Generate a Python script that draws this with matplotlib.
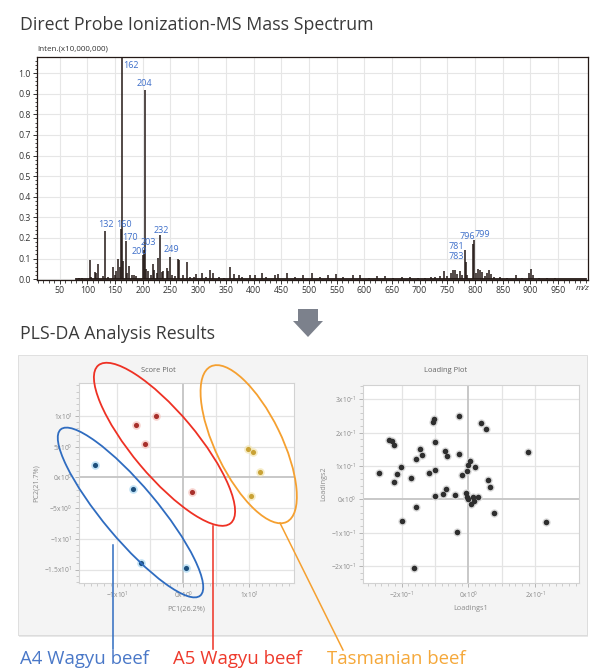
import numpy as np
import matplotlib
matplotlib.use('Agg')
import matplotlib.pyplot as plt
from matplotlib.transforms import Affine2D
from matplotlib.patches import Ellipse, Rectangle, Polygon
from matplotlib.lines import Line2D
from matplotlib.ticker import MultipleLocator, FixedLocator, FixedFormatter

plt.rcParams['font.family'] = ['Open Sans', 'DejaVu Sans']
plt.rcParams['mathtext.default'] = 'regular'

# ---------------- data ----------------
spec_mz = [84, 90, 104, 107, 114, 116, 119, 128, 132, 137, 146, 150, 152, 156, 158, 160, 162, 164,
           170, 172, 176, 180, 184, 188, 200, 203, 204, 206, 209, 214, 218, 221, 226, 228, 232, 234,
           236, 243, 246, 249, 253, 258, 263, 266, 272, 280, 286, 292, 297, 307, 314, 322, 326, 338,
           346, 358, 364, 373, 380, 394, 403, 415, 422, 439, 445, 460, 474, 490, 505, 520, 535, 549,
           562, 579, 593, 608, 623, 638, 652, 668, 682, 697, 710, 720, 728, 737, 744, 750, 757, 760,
           764, 768, 773, 776, 781, 783, 786, 796, 799, 802, 806, 809, 812, 818, 822, 825, 828, 835,
           845, 858, 874, 885, 898, 901, 904, 915, 930, 945]
spec_int = [0.004, 0.004, 0.092, 0.010, 0.033, 0.030, 0.073, 0.015, 0.235, 0.012, 0.058, 0.020, 0.040,
            0.100, 0.060, 0.245, 1.090, 0.090, 0.184, 0.030, 0.066, 0.020, 0.018, 0.015, 0.118, 0.140,
            0.917, 0.050, 0.040, 0.020, 0.072, 0.045, 0.030, 0.104, 0.213, 0.035, 0.040, 0.052, 0.040,
            0.110, 0.020, 0.015, 0.100, 0.094, 0.020, 0.082, 0.010, 0.012, 0.027, 0.030, 0.010, 0.046,
            0.030, 0.010, 0.008, 0.060, 0.025, 0.020, 0.012, 0.022, 0.020, 0.030, 0.010, 0.022, 0.025,
            0.030, 0.010, 0.020, 0.030, 0.010, 0.020, 0.027, 0.010, 0.020, 0.020, 0.008, 0.015, 0.017,
            0.006, 0.010, 0.012, 0.006, 0.008, 0.010, 0.012, 0.015, 0.040, 0.015, 0.030, 0.046, 0.045,
            0.025, 0.040, 0.020, 0.140, 0.085, 0.020, 0.170, 0.190, 0.030, 0.050, 0.045, 0.035, 0.015,
            0.030, 0.046, 0.025, 0.010, 0.012, 0.006, 0.018, 0.006, 0.030, 0.050, 0.020, 0.006, 0.008,
            0.004]
# peak label text, label x (m/z), label y (intensity)
label_txt = ['162', '204', '132', '160', '170', '200', '203', '232', '249', '781', '783', '796', '799']
label_x = [179.4, 203.8, 134.3, 166.2, 177.0, 193.9, 210.0, 233.6, 251.6, 766.6, 766.6, 785.4, 813.9]
label_y = [1.035, 0.948, 0.267, 0.267, 0.200, 0.133, 0.178, 0.234, 0.144, 0.157, 0.112, 0.205, 0.217]

# score plot (PC1, PC2)
a4_pc1 = [-13.3, -7.6, -6.4, 0.45]
a4_pc2 = [2.1, -1.8, -13.9, -14.8]
a5_pc1 = [-4.1, -7.1, -5.8, 1.3]
a5_pc2 = [10.0, 8.6, 5.4, -2.4]
tas_pc1 = [9.75, 10.6, 11.6, 10.3]
tas_pc2 = [4.7, 4.2, 0.9, -3.1]

# loading plot
load1 = [-0.266, -0.236, -0.229, -0.221, -0.221, -0.212, -0.201, -0.199, -0.171, -0.156, -0.158,
         -0.146, -0.138, -0.162, -0.119, -0.104, -0.105, -0.100, -0.099, -0.099, -0.076, -0.070,
         -0.063, -0.066, -0.039, -0.035, -0.029, -0.028, -0.020, -0.008, -0.005, -0.002, 0.004,
         0.000, 0.008, 0.013, 0.017, 0.020, 0.028, 0.038, 0.051, 0.057, 0.063, 0.075, 0.178, 0.232,
         -0.005]
load2 = [0.078, 0.178, 0.175, 0.163, 0.053, 0.075, 0.098, -0.065, 0.065, 0.120, -0.024, 0.150,
         0.132, -0.205, 0.078, 0.241, 0.231, 0.173, 0.088, 0.011, 0.016, 0.145, 0.131, 0.032, 0.013,
         -0.099, 0.251, 0.137, 0.072, 0.018, 0.085, 0.103, 0.115, 0.000, -0.015, 0.008, -0.005,
         0.098, 0.008, 0.230, 0.212, 0.057, 0.037, -0.041, 0.143, -0.069, 0.008]

groups = ['A4 Wagyu beef', 'A5 Wagyu beef', 'Tasmanian beef']

# ---------------- figure ----------------
W, H = 592, 668
fig = plt.figure(figsize=(W / 100, H / 100), dpi=100)
px = Affine2D().scale(1 / W, -1 / H).translate(0, 1) + fig.transFigure


def add_ax(l, t, r, b):
    return fig.add_axes([l / W, 1 - b / H, (r - l) / W, (b - t) / H])


TXT = '#3a3a3a'
fig.text(20, 25, 'Direct Probe Ionization-MS Mass Spectrum', transform=px, fontsize=12.8,
         color=TXT, va='center', ha='left')

# ---- spectrum ----
ax = add_ax(37, 57, 588, 280)
ax.set_xlim(9, 1004)
ax.set_ylim(-0.004, 1.078)
ax.vlines(spec_mz, 0, spec_int, color='#231815', lw=1.1)
ax.plot([80, 1000], [0.002, 0.002], color='#231815', lw=1.3)
ax.xaxis.set_minor_locator(MultipleLocator(10))
ax.yaxis.set_major_locator(MultipleLocator(0.1))
ax.yaxis.set_minor_locator(MultipleLocator(0.02))
ax.set_xticks(np.arange(50, 1000, 50))
ax.yaxis.set_major_formatter(matplotlib.ticker.FormatStrFormatter('%.1f'))
ax.grid(True, which='major', color='#e6e6e6', lw=0.8)
ax.set_axisbelow(True)
ax.tick_params(labelsize=6.3, colors='#333333', length=3, width=0.7, pad=1.5)
ax.tick_params(which='minor', length=1.8, width=0.5)
for s in ax.spines.values():
    s.set_color('#231815')
    s.set_linewidth(0.9)
for t, x, y in zip(label_txt, label_x, label_y):
    ax.text(x, y, t, color='#3d6ec9', fontsize=6.5, ha='center', va='center')
fig.text(37, 49, 'Inten.(x10,000,000)', transform=px, fontsize=5.8, color='#333333',
         va='center', ha='left')
fig.text(576, 289, 'm/z', transform=px, fontsize=6, color='#333333', style='italic',
         va='center', ha='left')

# ---- arrow ----
arrow = Polygon([(298, 309), (318, 309), (318, 321), (323, 321), (308, 337), (293, 321), (298, 321)],
                closed=True, transform=px, facecolor='#7c818c', edgecolor='none')
fig.patches.append(arrow)

fig.text(20, 334, 'PLS-DA Analysis Results', transform=px, fontsize=12.8, color=TXT,
         va='center', ha='left')

# ---- panel with shadow ----
for i, a in enumerate([0.04, 0.05, 0.06, 0.07]):
    o = 4 - i
    fig.patches.append(Rectangle((18 + o * 0.3, 355 + o * 0.6), 569, 280, transform=px,
                                 facecolor='black', alpha=a, edgecolor='none', zorder=-3))
fig.patches.append(Rectangle((18, 355), 569, 280, transform=px, facecolor='#f4f4f4',
                             edgecolor='#dcdcdc', lw=0.6, zorder=-2))

GRAYTXT = '#8a8a8a'


def style_small(a):
    a.set_facecolor('white')
    for s in a.spines.values():
        s.set_color('#d2d2d2')
        s.set_linewidth(0.8)
    a.tick_params(labelsize=4.8, colors='#aaaaaa', labelcolor=GRAYTXT, length=3, width=0.6,
                  pad=2)
    a.tick_params(which='minor', length=2, width=0.5, colors='#bbbbbb')
    a.set_axisbelow(True)


# ---- score plot ----
sp = add_ax(79, 383, 294, 583)
style_small(sp)
sp.set_xlim(-15.8, 16.8)
sp.set_ylim(-17.2, 15.4)
sp.axhline(0, color='#c4c4c4', lw=1.3, zorder=1)
sp.axvline(0, color='#c4c4c4', lw=1.3, zorder=1)
sp.xaxis.set_major_locator(FixedLocator([-10, 0, 10]))
sp.xaxis.set_major_formatter(FixedFormatter([r'$-1x10^{1}$', r'$0x10^{0}$', r'$1x10^{1}$']))
sp.xaxis.set_minor_locator(MultipleLocator(1))
sp.yaxis.set_major_locator(FixedLocator([-15, -10, -5, 0, 5, 10]))
sp.yaxis.set_major_formatter(FixedFormatter([r'$-1.5x10^{1}$', r'$-1x10^{1}$', r'$-5x10^{0}$',
                                             r'$0x10^{0}$', r'$5x10^{0}$', r'$1x10^{1}$']))
sp.yaxis.set_minor_locator(MultipleLocator(1))
for v in [-15, -10, -5, 5, 10]:
    sp.axhline(v, color='#e4e4e4', lw=0.9, zorder=0.5)
for v in [-10, -5, 5, 10]:
    sp.axvline(v, color='#e4e4e4', lw=0.9, zorder=0.5)
for xs, ys, c, hc in [(a4_pc1, a4_pc2, '#1d4f7c', '#a8d6f2'),
                      (a5_pc1, a5_pc2, '#a8302b', '#f5c2bc'),
                      (tas_pc1, tas_pc2, '#c9a235', '#f3e5b0')]:
    sp.plot(xs, ys, 'o', ms=6.2, color=hc, alpha=0.7, mec='none', zorder=3)
    sp.plot(xs, ys, 'o', ms=3.7, color=c, mec='none', zorder=4)
sp.set_xlabel('PC1(26.2%)', fontsize=5.2, color=GRAYTXT, labelpad=3)
sp.set_ylabel('PC2(21.7%)', fontsize=5.2, color=GRAYTXT, labelpad=3)
fig.text(158, 371, 'Score Plot', transform=px, fontsize=5.4, color='#666666', ha='center',
         va='center')

# ---- loading plot ----
lp = add_ax(363, 385, 579, 583)
style_small(lp)
lp.set_xlim(-0.315, 0.33)
lp.set_ylim(-0.251, 0.343)
lp.axhline(0, color='#c4c4c4', lw=1.3, zorder=1)
lp.axvline(0, color='#c4c4c4', lw=1.3, zorder=1)
lp.xaxis.set_major_locator(FixedLocator([-0.2, 0, 0.2]))
lp.xaxis.set_major_formatter(FixedFormatter([r'$-2x10^{-1}$', r'$0x10^{0}$', r'$2x10^{-1}$']))
lp.xaxis.set_minor_locator(MultipleLocator(0.02))
lp.yaxis.set_major_locator(FixedLocator([-0.2, -0.1, 0, 0.1, 0.2, 0.3]))
lp.yaxis.set_major_formatter(FixedFormatter([r'$-2x10^{-1}$', r'$-1x10^{-1}$', r'$0x10^{0}$',
                                             r'$1x10^{-1}$', r'$2x10^{-1}$', r'$3x10^{-1}$']))
lp.yaxis.set_minor_locator(MultipleLocator(0.02))
for v in [-0.2, -0.1, 0.1, 0.2, 0.3]:
    lp.axhline(v, color='#e4e4e4', lw=0.9, zorder=0.5)
for v in [-0.2, -0.1, 0.1, 0.2]:
    lp.axvline(v, color='#e4e4e4', lw=0.9, zorder=0.5)
lp.plot(load1, load2, 'o', ms=6, color='#dadada', mec='none', zorder=3)
lp.plot(load1, load2, 'o', ms=4, color='#2e2e2e', mec='none', zorder=4)
lp.set_xlabel('Loadings1', fontsize=5.2, color=GRAYTXT, labelpad=3)
lp.set_ylabel('Loadings2', fontsize=5.2, color=GRAYTXT, labelpad=3)
fig.text(446, 371, 'Loading Plot', transform=px, fontsize=5.4, color='#666666', ha='center',
         va='center')

# ---- group ellipses, connectors and labels ----
ell_col = ['#2f6cc0', '#ee3124', '#f5a030']
lab_col = ['#4a78c8', '#ee3a2c', '#f5a83a']
ellipses = [((130.5, 512.5), 217, 54, 50), ((164.5, 444.3), 206, 64, 50),
            ((248.7, 444.2), 173, 66, 64)]
connectors = [((112.7, 545), (112.7, 649)), ((212.7, 526), (212.7, 649)),
              ((280, 523), (343, 650))]
label_pos = [(20, 664), (173, 664), (327, 664)]
for g, ec, lc, (c, w, h, ang), (p0, p1), (lx, ly) in zip(groups, ell_col, lab_col, ellipses,
                                                        connectors, label_pos):
    fig.patches.append(Ellipse(c, w, h, angle=ang, transform=px, fill=False, edgecolor=ec,
                               lw=1.3, zorder=10))
    fig.lines.append(Line2D([p0[0], p1[0]], [p0[1], p1[1]], transform=px, color=ec, lw=1.1,
                            zorder=10))
    fig.text(lx, ly, g, transform=px, fontsize=13.4, color=lc, ha='left', va='baseline')

fig.savefig('out.png', dpi=100)
